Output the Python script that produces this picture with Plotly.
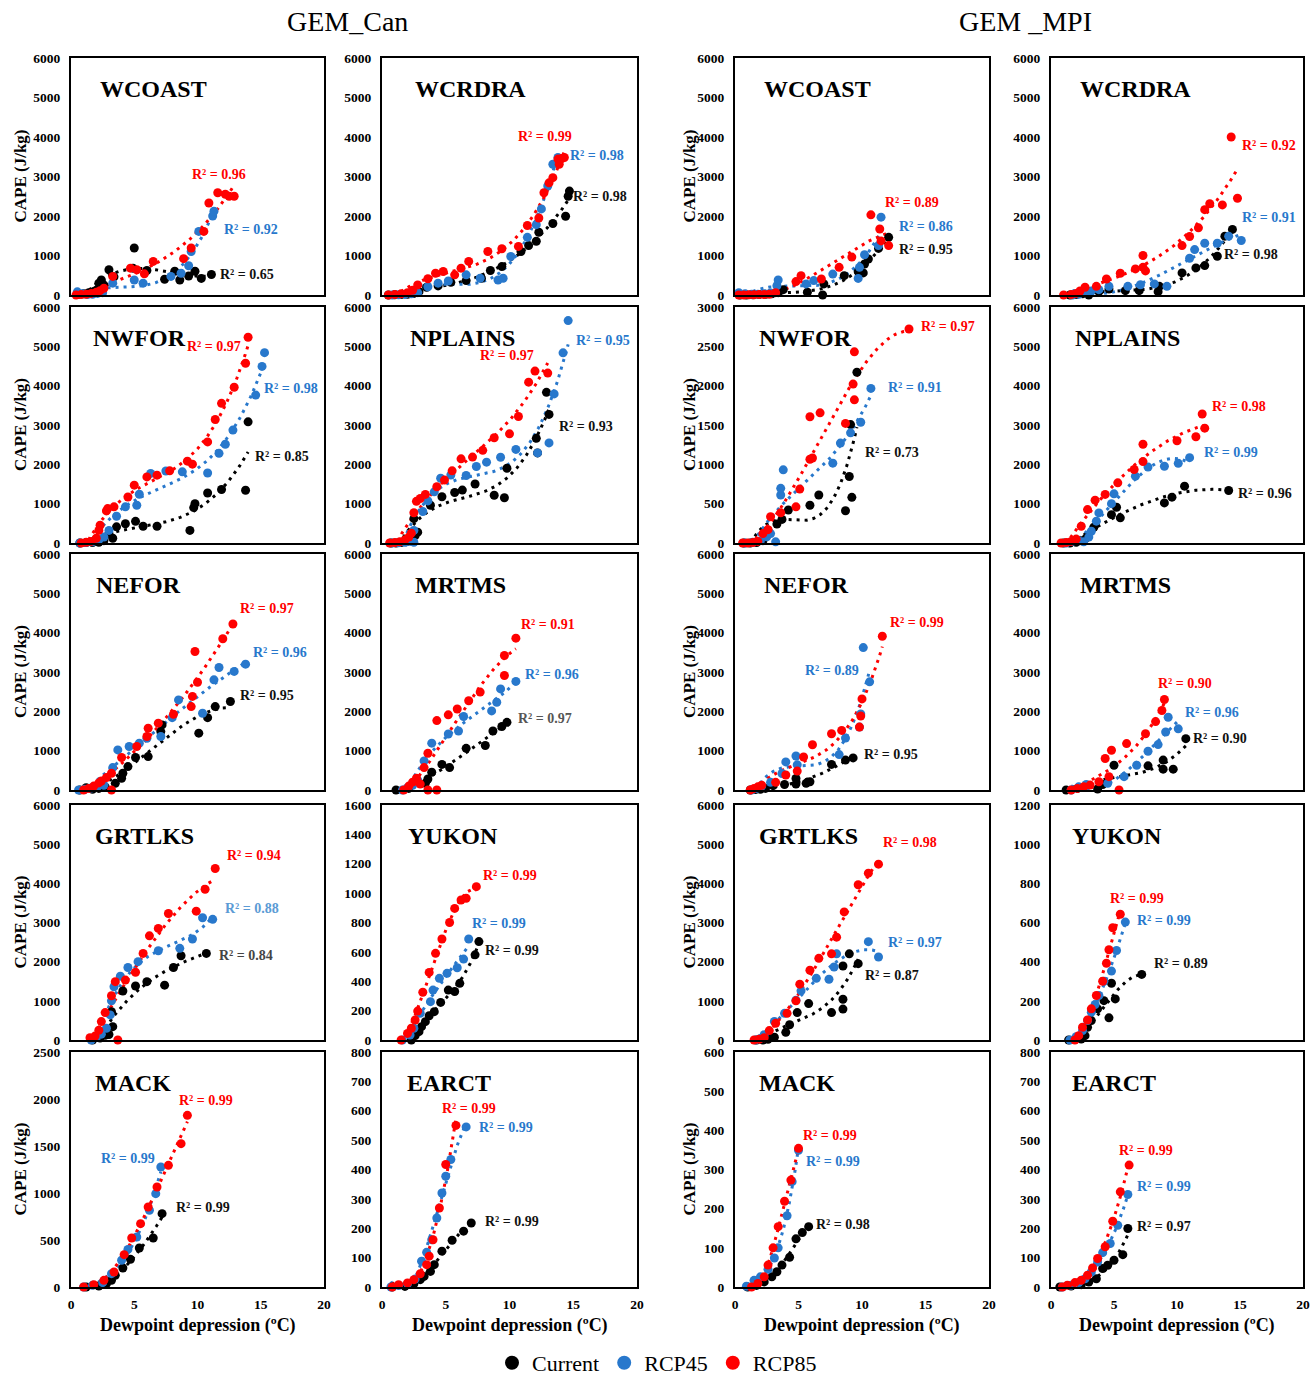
import numpy as np
import plotly.graph_objects as go

# ---------------------------------------------------------------------------
# Data: dewpoint depression (degC) and CAPE (J/kg) per region and scenario.
# Each *_dpd / *_cape list holds [Current, RCP45, RCP85].
# ---------------------------------------------------------------------------
SCENARIOS = ["Current", "RCP45", "RCP85"]
MODELS = ["GEM_Can", "GEM _MPI"]

# ---- GEM_Can ----
can_wcoast_dpd = [
    [0.6, 1.0, 1.4, 1.8, 2.0, 2.2, 2.4, 2.6, 3.0, 3.4, 4.9, 5.0, 6.0, 7.4, 8.2, 8.6, 9.3, 9.8, 10.3, 11.1],
    [0.5, 0.9, 1.3, 1.7, 2.1, 2.5, 3.3, 5.0, 5.7, 7.9, 8.7, 9.3, 9.5, 10.1, 11.2, 11.3],
    [0.4, 0.8, 1.2, 1.6, 2.0, 2.3, 2.6, 3.3, 4.7, 5.2, 5.8, 6.5, 8.9, 9.5, 10.5, 10.9, 11.6, 12.2, 12.5, 12.9],
]
can_wcoast_cape = [
    [20, 30, 60, 90, 120, 300, 380, 250, 640, 460, 680, 1190, 620, 400, 600, 380, 480, 600, 420, 520],
    [80, 30, 10, 20, 40, 60, 300, 380, 300, 470, 550, 740, 1100, 1610, 2000, 2120],
    [0, 10, 20, 40, 70, 110, 170, 470, 680, 640, 535, 850, 920, 1190, 1610, 2330, 2590, 2550, 2500, 2500],
]
can_wcoast_r2 = [0.65, 0.92, 0.96]

can_wcrdra_dpd = [
    [0.5, 1.0, 1.5, 2.0, 2.5, 2.9, 3.5, 4.4, 5.4, 6.6, 7.8, 8.5, 9.4, 10.9, 11.5, 12.1, 12.3, 13.4, 14.4, 14.6, 14.7],
    [0.8, 1.3, 1.8, 2.3, 2.8, 3.6, 4.4, 5.2, 6.6, 7.7, 9.1, 9.5, 10.1, 11.4, 12.1, 12.5, 13.0, 13.4, 13.8],
    [0.5, 1.0, 1.5, 2.0, 2.4, 2.8, 3.6, 4.2, 4.8, 5.7, 6.2, 6.8, 8.3, 9.4, 10.7, 11.4, 12.3, 12.7, 13.1, 13.4, 13.8, 13.9, 14.1, 14.3],
]
can_wcrdra_cape = [
    [0, 5, 10, 20, 40, 85, 195, 230, 320, 365, 425, 620, 720, 1100, 1250, 1360, 1590, 1810, 1995, 2500, 2630],
    [0, 5, 15, 30, 60, 210, 300, 355, 510, 425, 380, 425, 975, 1460, 1780, 2180, 2760, 3310, 3480],
    [0, 10, 30, 60, 120, 255, 410, 550, 595, 510, 680, 850, 1100, 1170, 1230, 1760, 1950, 2590, 2840, 2970, 3440, 3310, 3455, 3480],
]
can_wcrdra_r2 = [0.98, 0.98, 0.99]

can_nwfor_dpd = [
    [0.7, 1.2, 1.7, 2.2, 2.6, 3.0, 3.3, 3.6, 4.3, 5.1, 5.7, 6.8, 9.4, 9.7, 9.8, 10.8, 11.9, 13.8, 14.0],
    [0.7, 1.2, 1.7, 2.2, 2.6, 3.0, 3.6, 4.3, 5.2, 5.4, 6.3, 7.5, 8.8, 10.8, 11.7, 12.2, 12.8, 14.6, 15.1, 15.3],
    [0.8, 1.2, 1.6, 2.0, 2.2, 2.3, 2.8, 2.9, 3.4, 4.5, 5.0, 6.0, 6.8, 7.8, 9.2, 9.6, 10.8, 11.4, 11.9, 12.9, 13.8, 14.0],
]
can_nwfor_cape = [
    [0, 10, 10, 20, 60, 240, 120, 410, 490, 550, 425, 425, 320, 900, 1000, 1270, 1360, 1340, 3080],
    [0, 10, 30, 80, 150, 320, 680, 920, 960, 1240, 1770, 1830, 1810, 1780, 2280, 2510, 2870, 3760, 4490, 4840],
    [0, 20, 40, 120, 320, 450, 815, 875, 920, 1170, 1470, 1680, 1725, 1835, 2080, 2005, 2570, 3140, 3550, 3960, 4570, 5230],
]
can_nwfor_r2 = [0.85, 0.98, 0.97]

can_nplains_dpd = [
    [0.7, 1.1, 1.5, 1.9, 2.2, 2.5, 2.6, 2.8, 3.8, 4.7, 5.7, 6.3, 7.3, 8.8, 9.6, 9.8, 12.1, 12.2, 12.9, 13.1],
    [0.8, 1.3, 1.8, 2.2, 2.5, 2.5, 3.2, 3.6, 4.1, 4.6, 5.4, 6.6, 7.4, 8.2, 9.3, 10.5, 12.2, 13.1, 13.5, 14.2, 14.6],
    [0.6, 1.0, 1.4, 1.8, 2.1, 2.3, 2.5, 2.7, 3.0, 3.4, 4.3, 4.9, 5.5, 6.2, 7.1, 7.9, 8.8, 10.0, 10.7, 11.5, 12.0, 13.0],
]
can_nplains_cape = [
    [0, 0, 10, 30, 80, 620, 190, 275, 960, 1175, 1285, 1345, 1500, 1215, 1150, 1900, 2660, 2290, 3830, 3270],
    [0, 5, 20, 40, 20, 320, 800, 1070, 1300, 1645, 1730, 1715, 1945, 2055, 2180, 2380, 2290, 2545, 3790, 4835, 5655],
    [0, 10, 30, 80, 150, 250, 770, 1060, 1130, 1235, 1430, 1600, 1835, 2140, 2185, 2355, 2675, 2775, 3215, 4090, 4370, 4320],
]
can_nplains_r2 = [0.93, 0.95, 0.97]

can_nefor_dpd = [
    [0.7, 1.2, 1.7, 2.2, 2.7, 3.5, 4.0, 4.1, 4.5, 5.1, 6.1, 7.1, 7.2, 10.1, 10.8, 11.4, 12.6],
    [0.6, 1.1, 1.6, 2.1, 2.6, 3.3, 3.7, 4.6, 5.4, 6.0, 7.1, 8.0, 8.5, 10.4, 11.3, 11.7, 12.9, 13.8],
    [1.0, 1.4, 1.8, 2.2, 2.4, 2.8, 3.2, 3.2, 4.0, 5.2, 6.0, 6.1, 6.9, 8.1, 9.5, 9.6, 9.8, 10.0, 12.0, 12.8],
]
can_nefor_cape = [
    [0, 60, 20, 40, 80, 170, 300, 425, 595, 825, 850, 1485, 1655, 1445, 1840, 2120, 2250],
    [0, 20, 50, 90, 120, 570, 1020, 1105, 1190, 1315, 1360, 1840, 2290, 1950, 2800, 3115, 3015, 3200],
    [0, 40, 100, 180, 230, 315, 425, 0, 825, 1105, 1360, 1570, 1700, 1925, 2120, 2380, 3520, 2740, 3845, 4220],
]
can_nefor_r2 = [0.95, 0.96, 0.97]

can_mrtms_dpd = [
    [1.1, 2.1, 3.4, 3.6, 3.9, 4.7, 5.3, 6.6, 8.1, 8.7, 9.4, 9.8],
    [1.6, 2.0, 2.4, 2.8, 3.3, 3.9, 5.2, 6.0, 6.4, 8.6, 9.0, 9.3, 10.5],
    [1.7, 2.1, 2.4, 2.7, 3.0, 3.3, 3.6, 3.6, 4.3, 4.3, 5.2, 5.9, 6.8, 7.7, 9.6, 9.6, 10.5],
]
can_mrtms_cape = [
    [0, 40, 170, 280, 450, 650, 570, 1060, 1130, 1500, 1615, 1720],
    [0, 60, 120, 250, 740, 1190, 1425, 1500, 1870, 2010, 2230, 2570, 2760],
    [0, 100, 200, 300, 150, 570, 935, 0, 0, 1765, 1910, 2060, 2270, 2490, 2910, 3420, 3860],
]
can_mrtms_r2 = [0.97, 0.96, 0.91]

can_grtlks_dpd = [
    [1.7, 2.3, 2.7, 3.0, 3.3, 3.2, 4.1, 5.1, 6.0, 7.4, 8.1, 8.7, 10.7],
    [1.6, 2.0, 2.4, 2.8, 3.1, 3.2, 3.4, 3.9, 4.5, 5.3, 6.9, 8.6, 9.6, 10.4, 11.2],
    [1.5, 1.9, 2.2, 2.4, 2.7, 3.2, 3.5, 3.7, 4.3, 5.1, 5.7, 6.2, 6.9, 7.7, 9.9, 10.6, 11.4],
]
can_grtlks_cape = [
    [0, 50, 120, 140, 340, 720, 1250, 1380, 1490, 1400, 1850, 2150, 2210],
    [0, 60, 150, 300, 640, 1000, 1360, 1630, 1850, 2000, 2280, 2340, 2580, 3120, 3080],
    [60, 100, 250, 470, 700, 1130, 1490, 0, 1530, 1730, 2210, 2660, 2850, 3230, 3290, 3850, 4380],
]
can_grtlks_r2 = [0.84, 0.88, 0.94]

can_yukon_dpd = [
    [2.3, 2.6, 2.9, 3.1, 3.4, 3.7, 4.1, 4.6, 5.2, 5.7, 6.1, 7.3, 7.6],
    [1.6, 2.2, 2.5, 3.0, 3.8, 4.0, 4.5, 5.1, 5.9, 6.4, 6.8],
    [1.5, 2.0, 2.3, 2.6, 2.8, 3.2, 3.7, 4.2, 4.7, 5.3, 5.7, 6.2, 6.6, 7.4],
]
can_yukon_cape = [
    [0, 30, 57, 91, 125, 165, 193, 256, 340, 330, 386, 580, 670],
    [0, 34, 80, 182, 261, 340, 420, 454, 492, 551, 688],
    [0, 45, 80, 136, 197, 325, 460, 590, 688, 800, 896, 953, 965, 1044],
]
can_yukon_r2 = [0.99, 0.99, 0.99]

can_mack_dpd = [
    [1.2, 2.2, 2.8, 3.2, 3.5, 4.1, 4.7, 5.4, 6.5, 7.2],
    [1.0, 1.7, 2.5, 3.2, 4.0, 4.5, 5.2, 6.2, 6.7, 7.1],
    [1.0, 1.8, 2.6, 3.4, 4.2, 4.8, 5.5, 6.1, 6.8, 7.7, 8.7, 9.2],
]
can_mack_cape = [
    [0, 11, 35, 71, 124, 202, 294, 415, 521, 780],
    [0, 18, 46, 142, 284, 400, 532, 816, 993, 1277],
    [0, 25, 71, 160, 344, 521, 674, 851, 1064, 1294, 1525, 1826],
]
can_mack_r2 = [0.99, 0.99, 0.99]

can_earct_dpd = [
    [0.8, 1.8, 2.5, 3.0, 3.3, 3.8, 4.1, 4.7, 5.5, 6.4, 7.0],
    [0.7, 1.3, 2.0, 2.6, 3.1, 3.5, 3.9, 4.3, 4.7, 5.0, 5.4, 6.6],
    [0.8, 1.3, 2.0, 2.5, 3.0, 3.5, 3.7, 4.0, 4.5, 5.0, 5.8],
]
can_earct_cape = [
    [0, 2, 11, 25, 36, 53, 76, 122, 159, 190, 218],
    [0, 5, 11, 27, 88, 118, 161, 235, 320, 377, 434, 545],
    [0, 8, 14, 25, 45, 76, 105, 161, 269, 417, 550],
]
can_earct_r2 = [0.99, 0.99, 0.99]

# ---- GEM_MPI ----
mpi_wcoast_dpd = [
    [0.4, 0.9, 1.4, 1.9, 2.4, 2.9, 3.4, 3.8, 5.7, 6.9, 7.0, 8.6, 9.7, 10.1, 10.2, 10.5, 11.3, 12.1],
    [0.3, 0.8, 1.3, 1.8, 2.3, 2.8, 3.3, 3.4, 5.6, 6.2, 7.7, 9.7, 9.8, 10.2, 11.3, 11.5],
    [0.3, 0.7, 1.1, 1.5, 1.9, 2.3, 2.7, 3.2, 4.8, 5.2, 6.8, 8.2, 9.2, 10.7, 11.4, 11.5, 12.1],
]
mpi_wcoast_cape = [
    [0, 0, 5, 10, 20, 30, 60, 135, 70, 0, 280, 490, 590, 560, 785, 910, 1180, 1460],
    [60, 30, 20, 20, 30, 50, 235, 380, 280, 365, 530, 420, 700, 1020, 1250, 1970],
    [0, 0, 5, 5, 10, 10, 20, 60, 340, 490, 405, 700, 960, 2030, 1670, 1370, 1250],
]
mpi_wcoast_r2 = [0.95, 0.86, 0.89]

mpi_wcrdra_dpd = [
    [1.5, 2.0, 2.5, 3.0, 3.8, 4.6, 5.9, 7.0, 8.5, 8.6, 10.4, 11.5, 12.2, 13.2, 13.8, 14.4],
    [1.7, 2.2, 2.7, 3.2, 3.8, 4.6, 6.1, 7.1, 8.2, 9.2, 11.0, 11.4, 12.2, 13.2, 14.1, 15.1],
    [1.0, 1.6, 2.0, 2.3, 2.7, 3.6, 4.4, 5.5, 6.7, 7.3, 7.3, 7.5, 10.4, 11.0, 11.7, 12.2, 12.6, 13.6, 14.3, 14.8],
]
mpi_wcrdra_cape = [
    [0, 10, 30, 0, 85, 150, 110, 110, 85, 220, 560, 685, 745, 980, 1490, 1660],
    [0, 20, 60, 100, 135, 220, 220, 260, 280, 220, 930, 1150, 1310, 1310, 1490, 1380],
    [0, 10, 40, 100, 195, 220, 405, 550, 660, 1000, 700, 610, 1250, 1480, 1700, 2160, 2310, 2280, 4000, 2450],
]
mpi_wcrdra_r2 = [0.98, 0.91, 0.92]

mpi_nwfor_dpd = [
    [0.7, 1.2, 1.7, 2.2, 2.6, 3.3, 3.7, 4.2, 5.9, 6.6, 8.7, 9.0, 9.1, 9.2, 9.6],
    [0.8, 1.4, 2.0, 2.5, 2.8, 3.2, 3.6, 3.6, 3.8, 7.7, 8.3, 9.1, 9.9, 10.7],
    [0.6, 1.0, 1.4, 1.8, 2.2, 2.6, 2.8, 3.6, 4.8, 5.1, 5.9, 6.1, 5.9, 6.7, 8.7, 9.3, 9.4, 9.4, 13.7],
]
mpi_nwfor_cape = [
    [0, 0, 5, 30, 160, 240, 300, 420, 480, 610, 410, 845, 1505, 580, 2170],
    [0, 10, 30, 80, 120, 15, 610, 695, 930, 1015, 1270, 1400, 1535, 1965],
    [0, 0, 5, 20, 120, 170, 335, 385, 460, 685, 1065, 1080, 1605, 1655, 1520, 2020, 1820, 2430, 2720],
]
mpi_nwfor_r2 = [0.73, 0.91, 0.97]

mpi_nplains_dpd = [
    [1.0, 1.5, 2.0, 2.4, 2.8, 3.4, 4.8, 5.2, 5.5, 9.0, 9.6, 10.6, 14.1],
    [1.2, 1.7, 2.2, 2.6, 3.0, 3.2, 3.6, 3.8, 4.8, 5.0, 6.7, 7.7, 9.0, 10.1, 11.0],
    [0.8, 1.2, 1.6, 2.0, 2.4, 2.9, 3.5, 4.3, 5.3, 6.6, 7.3, 7.3, 10.0, 11.5, 12.0, 12.2],
]
mpi_nplains_cape = [
    [0, 0, 20, 60, 130, 400, 720, 910, 640, 1020, 1165, 1445, 1335],
    [0, 40, 60, 30, 150, 300, 555, 765, 1000, 1250, 1700, 1930, 1950, 2025, 2170],
    [0, 10, 40, 100, 425, 850, 1090, 1235, 1530, 1870, 2510, 2070, 2600, 2700, 3280, 2920],
]
mpi_nplains_r2 = [0.96, 0.99, 0.98]

mpi_nefor_dpd = [
    [1.2, 1.6, 2.0, 2.4, 3.0, 3.9, 4.8, 4.8, 5.6, 5.9, 7.6, 8.7, 9.3],
    [1.3, 1.7, 2.1, 2.8, 3.7, 4.0, 4.8, 4.9, 8.2, 8.7, 9.8, 9.9, 10.1, 10.6],
    [1.2, 1.5, 1.8, 2.1, 3.2, 4.0, 4.9, 5.4, 6.1, 7.6, 8.4, 9.8, 9.9, 10.0, 11.6],
]
mpi_nefor_cape = [
    [0, 10, 20, 40, 110, 140, 295, 150, 170, 210, 650, 760, 815],
    [0, 40, 100, 195, 420, 715, 865, 640, 900, 1320, 1600, 1935, 3620, 2750],
    [0, 40, 80, 120, 195, 380, 480, 840, 1150, 1430, 1515, 1600, 1880, 2315, 3910],
]
mpi_nefor_r2 = [0.95, 0.89, 0.99]

mpi_mrtms_dpd = [
    [1.2, 2.1, 3.7, 4.1, 5.0, 7.7, 8.9, 8.9, 9.7, 10.7],
    [1.6, 2.2, 2.8, 4.5, 5.8, 6.8, 7.7, 8.5, 9.1, 9.3, 10.1],
    [1.6, 2.1, 2.6, 3.1, 3.8, 4.3, 4.6, 4.8, 5.4, 6.0, 7.5, 8.3, 8.8, 9.0],
]
mpi_mrtms_cape = [
    [0, 40, 25, 140, 630, 615, 760, 530, 530, 1305],
    [0, 80, 140, 170, 340, 630, 985, 1155, 1475, 1850, 1555],
    [0, 40, 80, 125, 210, 800, 340, 1010, 0, 1180, 1430, 1740, 2020, 2300],
]
mpi_mrtms_r2 = [0.90, 0.96, 0.90]

mpi_grtlks_dpd = [
    [1.7, 2.2, 2.6, 3.1, 4.0, 4.3, 4.9, 5.8, 7.6, 8.5, 8.5, 8.5, 9.0, 9.7],
    [1.6, 2.0, 2.3, 3.1, 3.9, 4.8, 5.2, 6.4, 7.4, 7.8, 8.0, 10.5, 11.3],
    [1.5, 1.9, 2.3, 2.7, 3.2, 4.1, 4.8, 5.1, 5.9, 6.6, 7.6, 8.0, 8.6, 9.7, 10.5, 11.3],
]
mpi_grtlks_cape = [
    [0, 0, 20, 70, 195, 390, 700, 930, 700, 790, 1040, 1890, 2200, 1950],
    [0, 40, 135, 475, 680, 1015, 1255, 1575, 1550, 1865, 2200, 2510, 2120],
    [0, 20, 60, 240, 425, 680, 1000, 1425, 1780, 2085, 2200, 2625, 3270, 3965, 4260, 4490],
]
mpi_grtlks_r2 = [0.87, 0.97, 0.98]

mpi_yukon_dpd = [
    [1.4, 2.4, 2.7, 2.9, 3.2, 3.7, 4.2, 4.6, 4.8, 5.1, 7.2],
    [1.5, 2.0, 2.5, 2.9, 3.2, 3.5, 3.8, 4.2, 4.8, 5.2, 5.9],
    [1.9, 2.2, 2.5, 2.9, 3.2, 3.6, 4.1, 4.4, 4.6, 4.9, 5.5],
]
mpi_yukon_cape = [
    [0, 5, 22, 65, 99, 159, 201, 113, 290, 210, 335],
    [0, 17, 48, 99, 142, 181, 227, 300, 352, 457, 602],
    [0, 22, 65, 102, 159, 227, 300, 392, 461, 573, 642],
]
mpi_yukon_r2 = [0.89, 0.99, 0.99]

mpi_mack_dpd = [
    [1.0, 1.7, 2.3, 2.9, 3.3, 3.7, 4.3, 4.8, 5.3, 5.8],
    [0.9, 1.5, 2.0, 2.6, 3.1, 3.4, 4.1, 4.5, 5.0],
    [1.3, 1.8, 2.3, 2.6, 3.0, 3.4, 3.9, 4.4, 5.0],
]
mpi_mack_cape = [
    [0, 4, 13, 26, 39, 56, 76, 123, 139, 154],
    [2, 17, 26, 45, 74, 100, 182, 269, 349],
    [0, 9, 26, 56, 100, 154, 219, 273, 354],
]
mpi_mack_r2 = [0.98, 0.99, 0.99]

mpi_earct_dpd = [
    [0.7, 1.6, 2.4, 3.0, 3.6, 4.1, 4.5, 5.0, 5.7, 6.1],
    [0.9, 1.6, 2.2, 2.7, 3.2, 3.7, 4.1, 4.7, 5.3, 6.1],
    [0.9, 1.3, 1.9, 2.4, 2.9, 3.3, 3.7, 4.3, 4.9, 5.5, 6.2],
]
mpi_earct_cape = [
    [0, 3, 8, 17, 28, 63, 74, 91, 110, 199],
    [0, 6, 15, 28, 51, 85, 117, 148, 210, 315],
    [0, 6, 15, 23, 40, 65, 97, 137, 224, 324, 415],
]
mpi_earct_r2 = [0.97, 0.99, 0.99]

# ---------------------------------------------------------------------------
# Panel table: (region name, dpd, cape, r2, grid row, grid col)
# ---------------------------------------------------------------------------
panels = [
    ("WCOAST", can_wcoast_dpd, can_wcoast_cape, can_wcoast_r2, 0, 0),
    ("WCRDRA", can_wcrdra_dpd, can_wcrdra_cape, can_wcrdra_r2, 0, 1),
    ("WCOAST", mpi_wcoast_dpd, mpi_wcoast_cape, mpi_wcoast_r2, 0, 2),
    ("WCRDRA", mpi_wcrdra_dpd, mpi_wcrdra_cape, mpi_wcrdra_r2, 0, 3),
    ("NWFOR", can_nwfor_dpd, can_nwfor_cape, can_nwfor_r2, 1, 0),
    ("NPLAINS", can_nplains_dpd, can_nplains_cape, can_nplains_r2, 1, 1),
    ("NWFOR", mpi_nwfor_dpd, mpi_nwfor_cape, mpi_nwfor_r2, 1, 2),
    ("NPLAINS", mpi_nplains_dpd, mpi_nplains_cape, mpi_nplains_r2, 1, 3),
    ("NEFOR", can_nefor_dpd, can_nefor_cape, can_nefor_r2, 2, 0),
    ("MRTMS", can_mrtms_dpd, can_mrtms_cape, can_mrtms_r2, 2, 1),
    ("NEFOR", mpi_nefor_dpd, mpi_nefor_cape, mpi_nefor_r2, 2, 2),
    ("MRTMS", mpi_mrtms_dpd, mpi_mrtms_cape, mpi_mrtms_r2, 2, 3),
    ("GRTLKS", can_grtlks_dpd, can_grtlks_cape, can_grtlks_r2, 3, 0),
    ("YUKON", can_yukon_dpd, can_yukon_cape, can_yukon_r2, 3, 1),
    ("GRTLKS", mpi_grtlks_dpd, mpi_grtlks_cape, mpi_grtlks_r2, 3, 2),
    ("YUKON", mpi_yukon_dpd, mpi_yukon_cape, mpi_yukon_r2, 3, 3),
    ("MACK", can_mack_dpd, can_mack_cape, can_mack_r2, 4, 0),
    ("EARCT", can_earct_dpd, can_earct_cape, can_earct_r2, 4, 1),
    ("MACK", mpi_mack_dpd, mpi_mack_cape, mpi_mack_r2, 4, 2),
    ("EARCT", mpi_earct_dpd, mpi_earct_cape, mpi_earct_r2, 4, 3),
]

# ---------------------------------------------------------------------------
# Layout settings (axis ranges, label placement) per panel, same order
# ---------------------------------------------------------------------------
Y_AXES = [  # (max, tick step)
    (6000, 1000), (6000, 1000), (6000, 1000), (6000, 1000),
    (6000, 1000), (6000, 1000), (3000, 500), (6000, 1000),
    (6000, 1000), (6000, 1000), (6000, 1000), (6000, 1000),
    (6000, 1000), (1600, 200), (6000, 1000), (1200, 200),
    (2500, 500), (800, 100), (600, 100), (800, 100),
]
TITLE_INSET = [27, 31, 27, 27, 20, 26, 22, 22, 23, 31, 27, 27,
               22, 24, 22, 19, 22, 23, 22, 19]
R2_POS = [  # (x, y) centre of each R² label: Current, RCP45, RCP85
    [(13.9, 510), (14.2, 1650), (11.7, 3056)],
    [(17.1, 2500), (16.9, 3540), (12.8, 4015)],
    [(15.0, 1140), (15.0, 1730), (13.9, 2350)],
    [(15.9, 1015), (17.3, 1970), (17.3, 3790)],
    [(16.7, 2210), (17.4, 3930), (11.3, 5000)],
    [(16.0, 2950), (17.3, 5140), (9.8, 4770)],
    [(12.4, 1150), (14.2, 1975), (16.8, 2755)],
    [(17.0, 1250), (14.3, 2300), (14.9, 3460)],
    [(15.5, 2400), (16.5, 3505), (15.5, 4610)],
    [(12.8, 1825), (13.3, 2930), (13.0, 4220)],
    [(12.3, 900), (7.6, 3030), (14.3, 4265)],
    [(13.4, 1320), (12.8, 1960), (10.6, 2720)],
    [(13.8, 2150), (14.3, 3360), (14.5, 4700)],
    [(10.2, 606), (9.2, 790), (10.0, 1117)],
    [(12.4, 1635), (14.2, 2500), (13.8, 5050)],
    [(10.3, 389), (9.0, 611), (6.8, 722)],
    [(10.4, 844), (4.5, 1372), (10.7, 1986)],
    [(10.2, 224), (9.7, 542), (6.8, 607)],
    [(8.5, 160), (7.7, 321), (7.5, 386)],
    [(9.0, 205), (9.0, 341), (7.5, 466)],
]
# a few R² labels are printed in a lighter tone: (panel index, series) -> colour
LABEL_TONE = {(9, 0): "#555555", (12, 0): "#444444", (12, 1): "#5B9BD5"}

W, H = 1314, 1377
COL_PX = [(71, 324), (382, 637), (735, 989), (1051, 1303)]
ROW_PX = [(58, 295), (307, 543), (554, 790), (805, 1040), (1052, 1287)]
COLORS = ["#000000", "#2878CC", "#FF0000"]
LABEL_COLORS = ["#111111", "#2878CC", "#FF0000"]
SERIF = "Liberation Serif"
DOT_DASH = "3px,5px"
TICK_FONT = dict(family=SERIF, size=13.5, color="black", weight="bold")

fig = go.Figure()
annotations = []
layout_axes = {}

for i, (region, dpd, cape, r2, row, col) in enumerate(panels):
    s = "" if i == 0 else str(i + 1)
    l, r = COL_PX[col]
    t, b = ROW_PX[row]
    ymax, dtick = Y_AXES[i]

    layout_axes["xaxis" + s] = dict(
        domain=[l / W, r / W], range=[0, 20], dtick=5, anchor="y" + s,
        showticklabels=(row == 4), ticks="", showgrid=False, zeroline=False,
        showline=True, mirror=True, linecolor="black", linewidth=2,
        tickfont=TICK_FONT, ticklabelstandoff=4, fixedrange=True,
    )
    layout_axes["yaxis" + s] = dict(
        domain=[1 - b / H, 1 - t / H], range=[0, ymax], dtick=dtick, anchor="x" + s,
        ticks="", showgrid=False, zeroline=False, ticklabelstandoff=6,
        showline=True, mirror=True, linecolor="black", linewidth=2,
        tickfont=TICK_FONT, fixedrange=True,
    )

    # dotted polynomial trend lines, then markers on top
    for k in range(3):
        xs = np.array(dpd[k], dtype=float)
        ys = np.array(cape[k], dtype=float)
        coef = np.polyfit(xs, ys, 3)
        xf = np.linspace(xs.min(), xs.max(), 120)
        fig.add_trace(go.Scatter(
            x=xf, y=np.polyval(coef, xf), mode="lines",
            line=dict(color=COLORS[k], width=3, dash=DOT_DASH),
            xaxis="x" + s, yaxis="y" + s, showlegend=False, hoverinfo="skip",
        ))
    for k in range(3):
        fig.add_trace(go.Scatter(
            x=dpd[k], y=cape[k], mode="markers",
            marker=dict(color=COLORS[k], size=9),
            xaxis="x" + s, yaxis="y" + s, showlegend=False, cliponaxis=False,
            name=SCENARIOS[k],
        ))
        px_, py_ = R2_POS[i][k]
        annotations.append(dict(
            x=px_, y=py_, xref="x" + s, yref="y" + s, showarrow=False,
            text=f"R² = {r2[k]:.2f}", xanchor="center", yanchor="middle",
            font=dict(family=SERIF, size=14, weight="bold",
                      color=LABEL_TONE.get((i, k), LABEL_COLORS[k])),
        ))

    # region name inside the panel
    annotations.append(dict(
        x=(l + TITLE_INSET[i]) / W, y=1 - (t + 31) / H, xref="paper", yref="paper",
        text=region, showarrow=False, xanchor="left", yanchor="middle",
        font=dict(family=SERIF, size=24, color="black", weight="bold"),
    ))

    # y-axis title on the first column of each model block
    if col in (0, 2):
        annotations.append(dict(
            x=(20 if col == 0 else 689) / W, y=1 - ((t + b) / 2) / H,
            xref="paper", yref="paper", text="CAPE (J/kg)", textangle=-90,
            showarrow=False, xanchor="center", yanchor="middle",
            font=dict(family=SERIF, size=17, color="black", weight="bold"),
        ))
    # x-axis title under the bottom row
    if row == 4:
        annotations.append(dict(
            x=((l + r) / 2) / W, y=1 - 1325 / H, xref="paper", yref="paper",
            text="Dewpoint depression (ºC)", showarrow=False,
            xanchor="center", yanchor="middle",
            font=dict(family=SERIF, size=18, color="black", weight="bold"),
        ))

# model headings
for name, cx in zip(MODELS, [347, 1025]):
    annotations.append(dict(
        x=cx / W, y=1 - 22 / H, xref="paper", yref="paper", text=name,
        showarrow=False, xanchor="center", yanchor="middle",
        font=dict(family=SERIF, size=28, color="black"),
    ))

# legend entries
for k in range(3):
    fig.add_trace(go.Scatter(
        x=[None], y=[None], mode="markers", name=SCENARIOS[k],
        marker=dict(color=COLORS[k], size=14), showlegend=True,
    ))

fig.update_layout(
    width=W, height=H,
    margin=dict(l=0, r=0, t=0, b=0, autoexpand=False),
    paper_bgcolor="white", plot_bgcolor="white",
    annotations=annotations,
    legend=dict(orientation="h", x=0.5, xanchor="center", y=1 - 1363 / H,
                yanchor="middle", font=dict(family=SERIF, size=22, color="black"),
                itemwidth=30, tracegroupgap=0),
    hovermode=False,
    **layout_axes,
)

fig.write_html("out.html")
